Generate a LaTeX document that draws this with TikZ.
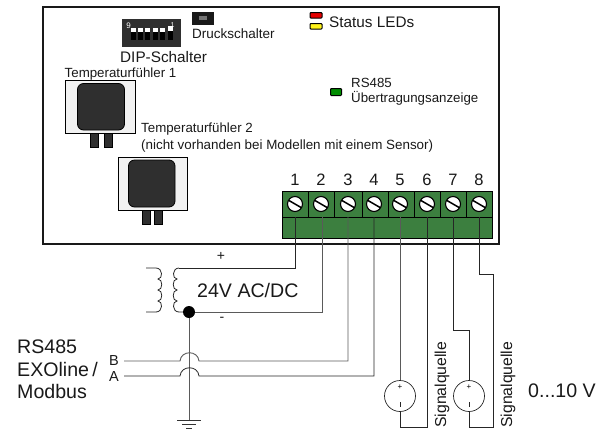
\documentclass[tikz,border=0pt]{standalone}
\usepackage{fontspec}
\setmainfont{Liberation Sans}
\definecolor{tgreen}{HTML}{3C7F3F}
\definecolor{sdark}{HTML}{2F2F2F}
\definecolor{wiregrey}{HTML}{5A5A5A}
\begin{document}
\begin{tikzpicture}[x=1pt,y=-1pt,
  lbl/.style={inner sep=0pt,anchor=base west,text=black!90},
  wire/.style={draw=black!85,line width=0.8pt},
  gwire/.style={draw=wiregrey,line width=0.9pt},
  sensorbox/.style={draw=black,fill=black!5,line width=0.8pt},
  sensorbody/.style={draw=black,fill=sdark,line width=0.8pt,rounded corners=6pt},
  sensorleg/.style={draw=black,fill=sdark,line width=0.6pt},
  led/.style={draw=black,line width=1pt,rounded corners=0.8pt},
  screw/.style={circle,draw=black,fill=white,line width=1.1pt,minimum size=15pt,inner sep=0pt},
  source/.style={circle,draw=black!85,line width=0.7pt,minimum size=31pt,inner sep=0pt}]
\useasboundingbox (0,0) rectangle (609,429);

% housing
\draw[line width=1.1pt,draw=black!90] (43,7) rectangle (499,244);

% DIP switch
\fill[sdark] (122,19) rectangle (181,47);
\foreach \x in {133,140.2,147.5,155,162.3}{
  \fill[white] (\x-2.5,27.5) rectangle (\x+2.5,32);
  \fill[black] (\x-2.5,32) rectangle (\x+2.5,40);
}
\fill[white] (167.5,26) rectangle (172.5,31);
\fill[black] (167.5,31) rectangle (172.5,40);
\node[inner sep=0pt,text=white,font=\fontsize{8}{8}\selectfont] (dipsix) at (128.5,26) {9};
\node[inner sep=0pt,text=white,font=\fontsize{7}{7}\selectfont] (dipone) at (172.5,25) {1};
\node[lbl,font=\fontsize{15.3}{15.3}\selectfont] (dip) at (120,62) {DIP-Schalter};

% push switch
\fill[black!90] (192,12) rectangle (214,25);
\fill[black!55] (199,16) rectangle (207,20);
\node[lbl,font=\fontsize{13.5}{13.5}\selectfont] (druck) at (192,38) {Druckschalter};

% LEDs
\filldraw[led,fill=red!90!black] (310,12.5) rectangle (322,18);
\filldraw[led,fill=yellow!90!white] (310,23.5) rectangle (322,29);
\filldraw[led,fill=green!55!black] (330.5,88.5) rectangle (341.5,95.5);
\node[lbl,font=\fontsize{15.3}{15.3}\selectfont] (status) at (329,27) {Status LEDs};
\node[lbl,font=\fontsize{13.3}{13.3}\selectfont] (rsa) at (351,87) {RS485};
\node[lbl,font=\fontsize{13.3}{13.3}\selectfont] (rsb) at (351,102) {Übertragungsanzeige};

% sensor 1
\draw[sensorbox] (65.5,80) rectangle (135,133);
\draw[sensorleg] (90,133) rectangle (98.5,147);
\draw[sensorleg] (104,133) rectangle (112,147);
\draw[sensorbody] (77.5,83.5) rectangle (124.5,130);
\node[lbl,font=\fontsize{13.3}{13.3}\selectfont] (t1) at (64.5,77) {Temperaturfühler 1};

% sensor 2
\draw[sensorbox] (118,157.5) rectangle (187,210);
\draw[sensorleg] (142.5,210) rectangle (150.5,224);
\draw[sensorleg] (154.5,210) rectangle (162.5,224);
\draw[sensorbody] (128.5,160) rectangle (175,207);
\node[lbl,font=\fontsize{13.3}{13.3}\selectfont] (t2) at (141,132) {Temperaturfühler 2};
\node[lbl,font=\fontsize{13.4}{13.4}\selectfont] (t2b) at (141,149) {(nicht vorhanden bei Modellen mit einem Sensor)};

% terminal block
\filldraw[fill=tgreen,draw=black,line width=0.9pt] (282,191) rectangle (492,238);
\draw[black,line width=0.8pt] (282,217) -- (492,217);
\foreach \x in {308,334,362,388,414,440,466}{
  \draw[black,line width=0.8pt] (\x,191) -- (\x,217);
}
\foreach \n/\x in {1/295,2/321,3/348,4/374,5/400,6/427,7/453,8/479}{
  \node[screw] (s\n) at (\x,204) {};
  \draw[black,line width=1.5pt] ([shift={(-6.2,-3.6)}]s\n.center) -- ([shift={(6.2,3.6)}]s\n.center);
  \node[lbl,anchor=base,font=\fontsize{16.5}{16.5}\selectfont] (n\n) at (\x,185) {\n};
}
\foreach \n/\x in {1/295,2/322,3/348,4/374,5/400,6/427,7/453,8/479}{
  \coordinate (p\n) at (\x,217);
}

% transformer
\coordinate (tl) at (146,268);
\coordinate (bl) at (146,312);
\draw[wire] (tl) -- (156,268)
  .. controls (163,268) and (163,279) .. (158,279)
  .. controls (163,279) and (163,290) .. (158,290)
  .. controls (163,290) and (163,301) .. (158,301)
  .. controls (163,301) and (163,312) .. (156,312) -- (bl);
\coordinate (junction) at (189,312);
\coordinate (tr) at (179,268);
\draw[wire] (tr) 
  .. controls (172,268) and (172,279) .. (177,279)
  .. controls (172,279) and (172,290) .. (177,290)
  .. controls (172,290) and (172,301) .. (177,301)
  .. controls (172,301) and (172,312) .. (179,312) -- (junction);
\draw[wire] (tr) -- (295,268) -- (p1);
\node[lbl,anchor=center,font=\fontsize{14}{14}\selectfont] (plus) at (221,256) {+};
\node[lbl,anchor=center,font=\fontsize{14}{14}\selectfont] (minus) at (222,319) {-};
\node[lbl,font=\fontsize{19.6}{19.6}\selectfont] (vac) at (197,297) {24V AC/DC};

% ground and supply
\coordinate (earth) at (189,420);
\draw[gwire] (junction) -- (earth);
\draw[gwire] (junction) -- (322,312) -- (p2);
\fill[black] (junction) circle (6);
\draw[black!80,line width=0.8pt] (177,420) -- (201,420) (182,424.5) -- (196,424.5) (186,428) -- (192,428);

% RS485 wires with bridges
\coordinate (bstart) at (124,361);
\coordinate (astart) at (124,376);
\draw[gwire] (bstart) -- (180,361) .. controls (181,350) and (198,350) .. (199,361) -- (348,361) -- (p3);
\draw[wire] (astart) -- (180,376) .. controls (181,365) and (198,365) .. (199,376) -- (374,376) -- (p4);
\node[lbl,anchor=center,font=\fontsize{14.5}{14.5}\selectfont] (bl2) at (114,361) {B};
\node[lbl,anchor=center,font=\fontsize{14.5}{14.5}\selectfont] (al2) at (114,377) {A};
\node[lbl,font=\fontsize{19.6}{19.6}\selectfont] (r1) at (17,353) {RS485};
\node[lbl,font=\fontsize{19.6}{19.6}\selectfont] (r2) at (17,376) {EXOline\,/};
\node[lbl,font=\fontsize{19.6}{19.6}\selectfont] (r3) at (17,398) {Modbus};

% signal sources
\node[source] (q1) at (400,396) {};
\node[source] (q2) at (469,396) {};
\foreach \q in {q1,q2}{
  \node[inner sep=0pt,font=\fontsize{8}{8}\selectfont] at ([yshift=9]\q.center) {+};
  \draw[black!85,line width=0.7pt] ([yshift=-6]\q.center) -- ([yshift=-11]\q.center);
}
\draw[gwire] (p5) -- (q1.north);
\draw[wire] (q1.south) -- (400,427) -- (427,427) -- (p6);
\draw[wire] (p7) -- (453,330) -- (469,330) -- (q2.north);
\draw[wire] (q2.south) -- (469,427) -- (493,427) -- (493,274) -- (479,274) -- (p8);
\node[lbl,rotate=90,font=\fontsize{15.8}{15.8}\selectfont] (sq1) at (446,428) {Signalquelle};
\node[lbl,rotate=90,font=\fontsize{15.8}{15.8}\selectfont] (sq2) at (512,428) {Signalquelle};
\node[lbl,font=\fontsize{19.6}{19.6}\selectfont] (volt) at (528,397) {0...10 V};
\end{tikzpicture}
\end{document}
